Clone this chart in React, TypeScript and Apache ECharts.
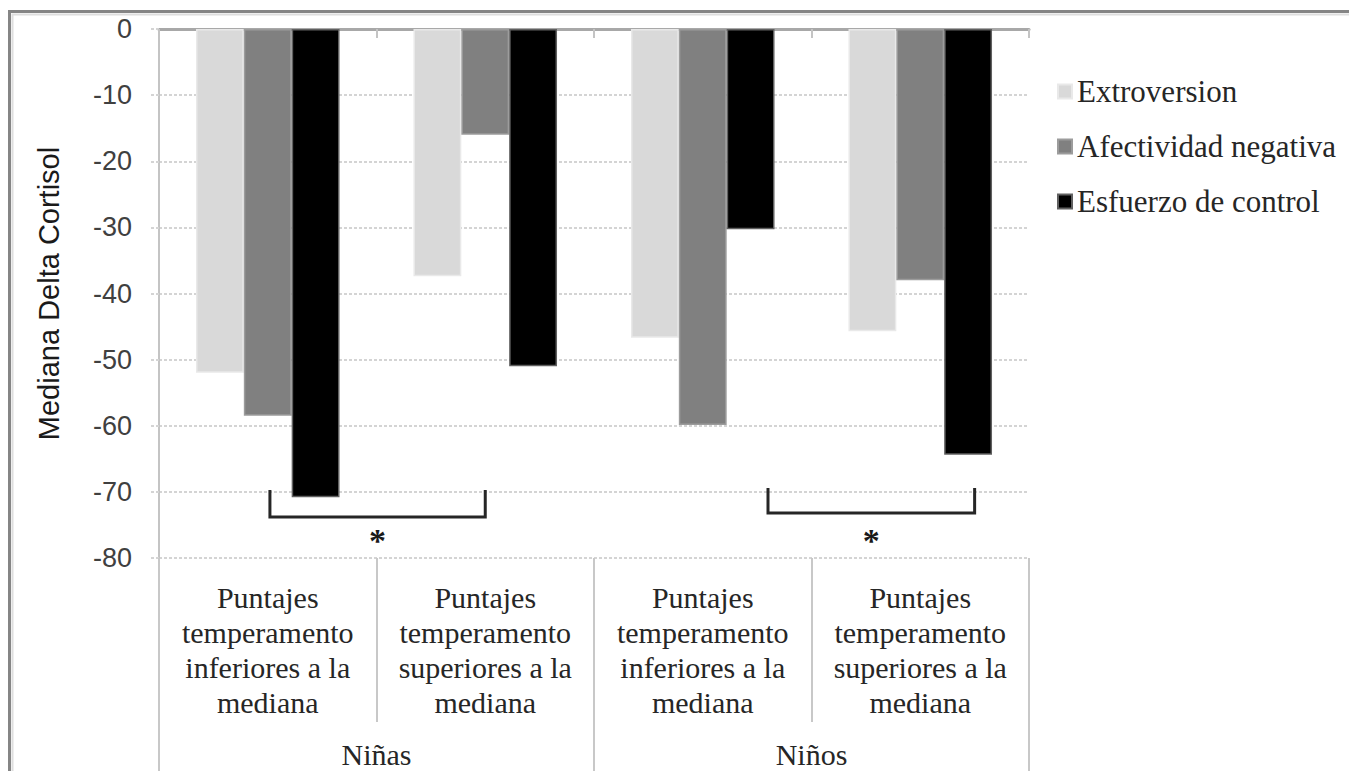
import React, { useEffect, useRef } from "react";
import * as echarts from "echarts";

const categories = [
  "Puntajes\ntemperamento\ninferiores a la\nmediana",
  "Puntajes\ntemperamento\nsuperiores a la\nmediana",
  "Puntajes\ntemperamento\ninferiores a la\nmediana",
  "Puntajes\ntemperamento\nsuperiores a la\nmediana",
];
const groups = ["Niñas", "Niños"];
const seriesNames = ["Extroversion", "Afectividad negativa", "Esfuerzo de control"];
const extroversion = [-52, -37.4, -46.7, -45.7];
const afectividad = [-58.5, -16, -59.9, -38];
const esfuerzo = [-70.8, -51, -30.3, -64.4];
const yTicks = { min: -80, max: 0, interval: 10 };
// significance brackets: positions in category units, levels in axis values
const brackets = [
  { from: 0.01, to: 1.0, top: -69.7, bottom: -73.8, star: -76.8, label: "*" },
  { from: 2.3, to: 3.25, top: -69.4, bottom: -73.2, star: -76.8, label: "*" },
];

const SERIF = "Liberation Serif";
const SANS = "Liberation Sans";

export default function App() {
  const ref = useRef<HTMLDivElement>(null);
  useEffect(() => {
    document.body.style.margin = "0";
    if (!ref.current) return;
    const chart = echarts.init(ref.current, undefined, { renderer: "svg" });
    const colors = ["#d9d9d9", "#808080", "#000000"];
    const borders = ["#e9e9e9", "#9c9c9c", "#606060"];
    const values = [extroversion, afectividad, esfuerzo];
    chart.setOption({
      animation: false,
      backgroundColor: "#ffffff",
      grid: { left: 159, right: 320, top: 29, bottom: 213, containLabel: false },
      legend: {
        orient: "vertical",
        left: 1057,
        top: 76,
        itemWidth: 14,
        itemHeight: 14,
        itemGap: 24,
        icon: "rect",
        padding: 0,
        data: seriesNames,
        textStyle: { fontFamily: SERIF, fontSize: 31, color: "#262626" },
      },
      xAxis: [
        {
          type: "category",
          data: categories,
          position: "bottom",
          axisLine: { show: false, onZero: false },
          axisTick: {
            show: true,
            interval: 0,
            alignWithLabel: false,
            length: 164,
            lineStyle: { color: "#c8c8c8", width: 2 },
          },
          axisLabel: { show: false },
        },
        {
          type: "category",
          data: groups,
          position: "bottom",
          axisLine: { show: false, onZero: false },
          axisTick: {
            show: true,
            interval: 0,
            alignWithLabel: false,
            length: 213,
            lineStyle: { color: "#c8c8c8", width: 2 },
          },
          axisLabel: { show: false },
        },
        {
          type: "category",
          data: categories,
          position: "top",
          axisLine: { show: true, onZero: false, lineStyle: { color: "#a8a8a8", width: 3 } },
          axisTick: {
            show: true,
            inside: true,
            interval: 0,
            alignWithLabel: false,
            length: 9,
            lineStyle: { color: "#c4c4c4", width: 2 },
          },
          axisLabel: { show: false },
        },
      ],
      yAxis: {
        type: "value",
        min: yTicks.min,
        max: yTicks.max,
        interval: yTicks.interval,
        name: "Mediana Delta Cortisol",
        nameLocation: "middle",
        nameRotate: 90,
        nameGap: 96,
        nameTextStyle: { fontFamily: SANS, fontSize: 29, color: "#1a1a1a" },
        axisLine: { show: true, lineStyle: { color: "#c4c4c4", width: 2 } },
        axisTick: { show: true, length: 9, lineStyle: { color: "#d4d4d4", width: 2, type: [3, 2] } },
        axisLabel: { fontFamily: SANS, fontSize: 27, color: "#404040", margin: 27 },
        splitLine: { show: true, lineStyle: { color: "#d4d4d4", width: 2, type: [3, 2] } },
      },
      series: seriesNames.map((name, i) => ({
        name,
        type: "bar",
        xAxisIndex: 0,
        data: values[i],
        barGap: "0%",
        barCategoryGap: "34%",
        itemStyle: { color: colors[i], borderColor: borders[i], borderWidth: 1.5 },
      })),
    });

    const c0 = chart.convertToPixel({ xAxisIndex: 0 }, 0) as number;
    const c1 = chart.convertToPixel({ xAxisIndex: 0 }, 1) as number;
    const band = c1 - c0;
    const px = (p: number) => c0 + p * band;
    const py = (v: number) => chart.convertToPixel({ yAxisIndex: 0 }, v) as number;
    const axisBottom = py(yTicks.min);

    // category and group labels as title components (serif), placed by the axis scales
    const titles: any[] = [];
    categories.forEach((c, i) => {
      titles.push({
        text: c,
        left: chart.convertToPixel({ xAxisIndex: 0 }, i) as number,
        top: axisBottom + 22,
        textAlign: "center",
        padding: 0,
        textStyle: {
          fontFamily: SERIF,
          fontSize: 30,
          lineHeight: 35,
          fontWeight: "normal",
          color: "#262626",
        },
      });
    });
    groups.forEach((g, j) => {
      titles.push({
        text: g,
        left: chart.convertToPixel({ xAxisIndex: 1 }, j) as number,
        top: axisBottom + 181,
        textAlign: "center",
        padding: 0,
        textStyle: {
          fontFamily: SERIF,
          fontSize: 30,
          lineHeight: 30,
          fontWeight: "normal",
          color: "#262626",
        },
      });
    });

    const elements: any[] = [
      {
        type: "rect",
        shape: { x: 9.5, y: 11.5, width: 1400, height: 800 },
        style: { fill: "none", stroke: "#858585", lineWidth: 3 },
        silent: true,
      },
      {
        type: "rect",
        shape: { x: 12.5, y: 14.5, width: 1400, height: 800 },
        style: { fill: "none", stroke: "#dedede", lineWidth: 2 },
        silent: true,
      },
    ];
    brackets.forEach((b) => {
      const x1 = px(b.from);
      const x2 = px(b.to);
      elements.push({
        type: "polyline",
        shape: {
          points: [
            [x1, py(b.top)],
            [x1, py(b.bottom)],
            [x2, py(b.bottom)],
            [x2, py(b.top)],
          ],
        },
        style: { stroke: "#262626", lineWidth: 3, fill: "none" },
        silent: true,
      });
      elements.push({
        type: "text",
        x: (x1 + x2) / 2,
        y: py(b.star) + 4,
        style: {
          text: b.label,
          fontFamily: SERIF,
          fontSize: 34,
          fontWeight: "bold",
          fill: "#1a1a1a",
          align: "center",
          verticalAlign: "middle",
        },
        silent: true,
      });
    });
    chart.setOption({ title: titles, graphic: { elements } });

    return () => {
      chart.dispose();
    };
  }, []);
  return <div ref={ref} style={{ width: 1349, height: 771 }} />;
}
